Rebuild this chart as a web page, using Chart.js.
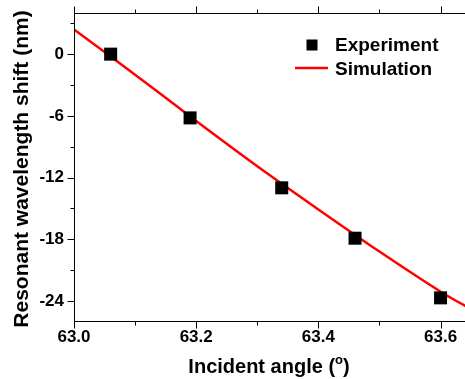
<!DOCTYPE html>
<html>
<head>
<meta charset="utf-8">
<script src="https://cdn.jsdelivr.net/npm/chart.js@4.4.1/dist/chart.umd.min.js"></script>
<style>
  html, body { margin: 0; padding: 0; background: #fff; }
  canvas { display: block; }
</style>
</head>
<body>
<canvas id="shiftChart" width="465" height="379"></canvas>
<script>
// measured points
const expAngles = [63.06, 63.19, 63.34, 63.46, 63.60];
const expShift = [0, -6.2, -13.0, -17.9, -23.7];

// simulated curve
const simAngles = [63.0, 63.1, 63.2, 63.3, 63.4, 63.5, 63.6, 63.65];
const simShift = [2.4, -2.0, -6.5, -10.9, -15.1, -19.2, -23.1, -24.8];

const xMajorTicks = [63.0, 63.2, 63.4, 63.6];
const xMinorTicks = [63.1, 63.3, 63.5];
const yMajorTicks = [-24, -18, -12, -6, 0];
const yMinorTicks = [-21, -15, -9, -3, 3];

const FONT = "'Liberation Sans', Arial, sans-serif";

// axis frame, tick marks, titles and legend
const framePlugin = {
    id: "frame",
    afterDraw(chart) {
        const ctx = chart.ctx;
        const area = chart.chartArea;
        const xs = chart.scales.x;
        const ys = chart.scales.y;
        ctx.save();
        ctx.strokeStyle = "#000";
        ctx.lineWidth = 1;

        const L = Math.round(area.left) + 0.5;
        const T = Math.round(area.top) + 0.5;
        const B = Math.round(area.bottom) + 0.5;

        ctx.beginPath();
        ctx.moveTo(L, T);
        ctx.lineTo(L, B);
        ctx.lineTo(area.right, B);
        ctx.moveTo(L, T);
        ctx.lineTo(area.right, T);

        xMajorTicks.concat(xMinorTicks).forEach((v) => {
            const len = xMajorTicks.includes(v) ? 7 : 4;
            const px = Math.round(xs.getPixelForValue(v)) + 0.5;
            ctx.moveTo(px, B);
            ctx.lineTo(px, B + len);
            ctx.moveTo(px, T);
            ctx.lineTo(px, T - len);
        });
        yMajorTicks.concat(yMinorTicks).forEach((v) => {
            const len = yMajorTicks.includes(v) ? 7 : 4;
            const py = Math.round(ys.getPixelForValue(v)) + 0.5;
            ctx.moveTo(L, py);
            ctx.lineTo(L - len, py);
        });
        ctx.stroke();

        // axis titles
        ctx.fillStyle = "#000";
        ctx.font = "bold 20px " + FONT;
        const part1 = "Incident angle (";
        ctx.textBaseline = "alphabetic";
        const w1 = ctx.measureText(part1).width;
        ctx.font = "bold 13px " + FONT;
        const wO = ctx.measureText("o").width;
        ctx.font = "bold 20px " + FONT;
        const w3 = ctx.measureText(")").width;
        let tx = 269 - (w1 + wO + w3) / 2;
        ctx.textAlign = "left";
        ctx.fillText(part1, tx, 373);
        ctx.font = "bold 13px " + FONT;
        ctx.fillText("o", tx + w1, 364);
        ctx.font = "bold 20px " + FONT;
        ctx.fillText(")", tx + w1 + wO, 373);

        ctx.save();
        ctx.translate(28, 169);
        ctx.rotate(-Math.PI / 2);
        ctx.font = "bold 21px " + FONT;
        ctx.textAlign = "center";
        ctx.fillText("Resonant wavelength shift (nm)", 0, 0);
        ctx.restore();

        // legend
        const ds = chart.data.datasets;
        ctx.fillStyle = "#000";
        ctx.fillRect(306.5, 39.5, 11, 11);
        ctx.strokeStyle = "#ff0000";
        ctx.lineWidth = 2.5;
        ctx.beginPath();
        ctx.moveTo(295, 68);
        ctx.lineTo(328, 68);
        ctx.stroke();
        ctx.fillStyle = "#000";
        ctx.font = "bold 19px " + FONT;
        ctx.textAlign = "left";
        ctx.fillText(ds[0].label, 335, 50.5);
        ctx.fillText(ds[1].label, 335, 75);
        ctx.restore();
    }
};

const ctx = document.getElementById("shiftChart").getContext("2d");

new Chart(ctx, {
    type: "scatter",
    data: {
        datasets: [{
            label: "Experiment",
            data: expAngles.map((a, i) => ({ x: a, y: expShift[i] })),
            pointStyle: "rect",
            pointRadius: 9.2,
            backgroundColor: "#000",
            borderColor: "#000",
            borderWidth: 0,
            order: 0
        }, {
            label: "Simulation",
            type: "line",
            data: simAngles.map((a, i) => ({ x: a, y: simShift[i] })),
            borderColor: "#ff0000",
            borderWidth: 2.5,
            pointRadius: 0,
            tension: 0.3,
            fill: false,
            order: 1
        }]
    },
    options: {
        responsive: false,
        animation: false,
        devicePixelRatio: 1,
        layout: { autoPadding: false, padding: { top: 13, right: 0, left: 0, bottom: 0 } },
        plugins: {
            legend: { display: false },
            tooltip: { enabled: false }
        },
        scales: {
            x: {
                type: "linear",
                min: 63.0,
                max: 63.64,
                grid: { display: false, drawTicks: false },
                border: { display: false },
                afterBuildTicks: (scale) => { scale.ticks = xMajorTicks.map((v) => ({ value: v })); },
                afterFit: (scale) => {
                    scale.height = 58;
                    scale.paddingLeft = 0;
                    scale.paddingRight = 0;
                },
                ticks: {
                    color: "#000",
                    padding: 6,
                    font: { family: FONT, size: 17, weight: "bold" },
                    callback: (v) => v.toFixed(1)
                }
            },
            y: {
                type: "linear",
                min: -25.95,
                max: 4.0,
                grid: { display: false, drawTicks: false },
                border: { display: false },
                afterBuildTicks: (scale) => { scale.ticks = yMajorTicks.map((v) => ({ value: v })); },
                afterFit: (scale) => {
                    scale.width = 74;
                    scale.paddingTop = 0;
                    scale.paddingBottom = 0;
                },
                ticks: {
                    color: "#000",
                    padding: 10,
                    font: { family: FONT, size: 17, weight: "bold" },
                    callback: (v) => String(v)
                }
            }
        }
    },
    plugins: [framePlugin]
});
</script>
</body>
</html>
